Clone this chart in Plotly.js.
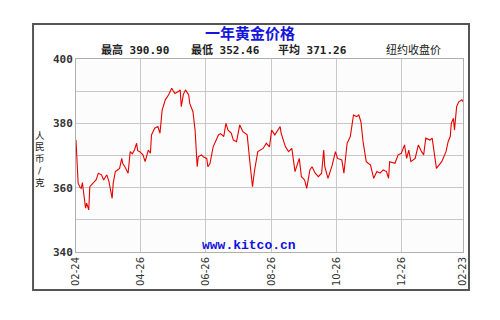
<!DOCTYPE html>
<html><head><meta charset="utf-8">
<script src="https://cdn.plot.ly/plotly-3.0.1.min.js"></script>
<style>html,body{margin:0;padding:0;background:#fff}#c{width:500px;height:320px}</style>
</head><body><div id="c"></div>
<script>
// day offsets from 02-24 and price (RMB/g)
const days = [0,1,2,4,5,6,8,9,10,12,13,16,19,21,24,26,29,31,34,35,37,39,41,43,44,46,49,51,53,55,57,58,60,63,65,68,70,71,74,77,79,81,84,87,88,90,93,96,98,99,101,103,106,107,110,112,114,115,118,120,123,124,126,129,134,136,139,141,143,146,148,151,154,157,161,163,164,166,168,171,176,179,182,184,187,192,193,197,200,203,206,210,212,215,217,220,222,225,228,231,233,234,237,241,244,246,250,252,255,258,261,264,266,268,270,273,277,280,283,286,289,292,294,295,300,303,306,309,311,313,315,319,322,325,327,329,333,335,338,339,344,348,350,352,353,355,356,358,360,363,364];
const prices = [374.8,366.5,361.4,360.0,359.8,361.6,356.0,353.6,355.2,353.1,360.3,361.4,362.5,364.5,364.0,362.4,364.0,361.9,356.7,361.4,365.0,365.5,366.0,369.1,367.5,366.5,364.5,371.2,370.5,371.7,373.8,371.5,371.2,370.2,368.1,371.7,370.7,376.4,378.5,379.0,376.9,384.1,387.3,388.8,389.5,390.9,389.3,389.8,390.4,385.2,389.0,390.4,388.8,386.2,383.6,377.9,366.5,369.6,370.2,369.5,369.1,366.5,367.5,372.7,376.4,376.8,375.9,380.0,377.9,377.0,374.8,374.3,379.5,377.4,376.4,368.0,366.5,360.3,365.5,371.2,372.2,373.8,372.7,377.9,376.4,379.0,376.9,372.7,371.2,372.2,365.0,369.1,363.4,362.4,359.8,365.5,366.5,364.5,363.4,364.5,371.7,366.5,362.9,367.0,371.2,369.1,368.6,364.5,373.8,375.9,382.6,382.1,382.6,380.5,374.3,368.1,367.0,362.9,365.0,364.5,365.5,365.0,362.9,368.1,367.6,370.2,370.7,373.3,369.1,371.7,368.1,369.1,373.3,371.2,370.2,375.4,374.8,375.4,367.0,366.0,368.1,371.2,374.3,375.9,380.0,381.6,377.9,385.2,386.7,387.3,386.7];
const xTickDays = [0,61,122,184,245,306,364];
const xTickLabels = ["02-24","04-26","06-26","08-26","10-26","12-26","02-23"];
const yTickVals = [340,350,360,370,380,390,400];
const yTickLabels = ["340","","360","","380","","400"];
const titleText = "一年黄金价格";
const statsLabels = ["最高 390.90","最低 352.46","平均 371.26","纽约收盘价"];
const yTitleChars = ["人","民","币","/","克"];
const site = "www.kitco.cn";

const statX = [0.062, 0.295, 0.519, 0.798];

const annotations = [
  {xref:"paper",yref:"paper",x:0.45,y:1.137,text:"<b>"+titleText+"</b>",showarrow:false,borderpad:0,
   font:{family:"Noto Sans CJK SC",size:15,color:"#1515e0"},xanchor:"center",yanchor:"middle"},
  {xref:"paper",yref:"paper",x:0.32,y:0.035,text:"<b>"+site+"</b>",showarrow:false,
   font:{family:"Liberation Mono, monospace",size:13,color:"#1010e0"},xanchor:"left",yanchor:"middle"}
];
yTitleChars.forEach((t,i)=>annotations.push({xref:"paper",yref:"paper",x:-0.093,
  y:(252-135-i*11.8)/193,text:t,showarrow:false,xanchor:"center",yanchor:"middle",borderpad:0,
  font:{family:"DejaVu Sans, Noto Sans CJK SC",size:9.5,color:"#222"}}));
statsLabels.forEach((t,i)=>annotations.push({xref:"paper",yref:"paper",x:statX[i],y:1.048,
  text:i<3?"<b>"+t+"</b>":t,showarrow:false,xanchor:"left",yanchor:"middle",borderpad:0,
  font:{family:"DejaVu Sans Mono, Noto Sans CJK SC",size:11,color:"#222"}}));

const data = [{x:days,y:prices,type:"scatter",mode:"lines",
  line:{color:"#e80000",width:1.1},hoverinfo:"skip"}];

const layout = {
  width:500,height:320,
  margin:{l:76,r:37,t:59,b:68},
  paper_bgcolor:"#ffffff",plot_bgcolor:"#fcfcfc",
  showlegend:false,
  xaxis:{range:[0,364],tickvals:xTickDays,ticktext:xTickLabels,tickangle:-90,
    showgrid:true,gridcolor:"#c8c8c8",gridwidth:1,zeroline:false,
    showline:true,linecolor:"#b0b0b0",mirror:true,ticks:"",
    tickfont:{family:"DejaVu Sans, sans-serif",size:10,color:"#333"}},
  yaxis:{range:[340,400],tickvals:yTickVals,ticktext:yTickLabels,
    showgrid:true,gridcolor:"#c8c8c8",gridwidth:1,zeroline:false,
    showline:true,linecolor:"#b0b0b0",mirror:true,ticks:"",
    tickfont:{family:"DejaVu Sans Mono, monospace",size:11,color:"#333",weight:"bold"}},
  shapes:[{type:"rect",xref:"paper",yref:"paper",x0:-0.111,x1:1.0155,y0:-0.197,y1:1.181,
    line:{color:"#555",width:2},fillcolor:"rgba(0,0,0,0)",layer:"below"}],
  annotations:annotations
};
Plotly.newPlot("c",data,layout,{staticPlot:true,displayModeBar:false});
</script></body></html>
